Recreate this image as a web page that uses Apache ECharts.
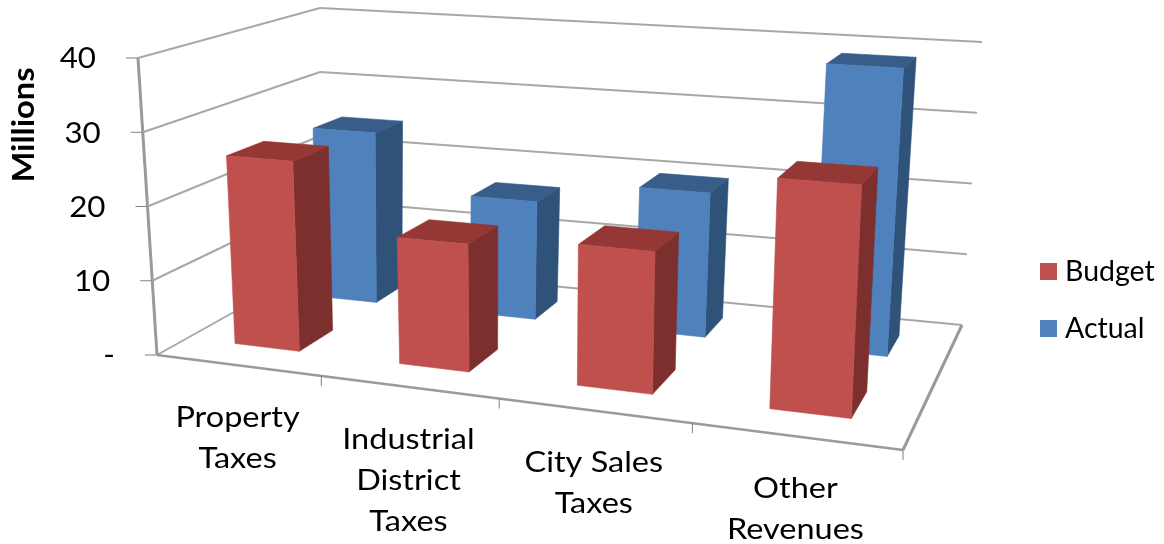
<!DOCTYPE html>
<html>
<head>
<meta charset="utf-8">
<style>
  html, body { margin: 0; padding: 0; background: #fff; }
  #chart { width: 1164px; height: 544px; }
</style>
<script src="https://cdn.jsdelivr.net/npm/echarts@6/dist/echarts.min.js"></script>
</head>
<body>
<div id="chart"></div>
<script>
  var categories = ['Property\nTaxes', 'Industrial\nDistrict\nTaxes', 'City Sales\nTaxes', 'Other\nRevenues']
  var budgetValues = [25.7, 16.7, 18, 28.4]
  var actualValues = [24.8, 16.7, 19.9, 38.6]
  var yTicks = [0, 10, 20, 30, 40]
  var yTickLabels = ['-', '10', '20', '30', '40']

  var FONT = 'Lato'
  var GRID_COLOR = '#a8a8a8'
  var EDGE_COLOR = '#9a9a9a'
  var TICK_COLOR = '#808080'

  // corners of the 3D box on screen: floor then top, front-left / front-right / back-right / back-left
  var floorBox = [[157, 355], [903, 450], [962, 325], [320, 264]]
  var topBox = [[138, 58], [920, 105], [982, 42], [320, 8]]
  var BAR_RATIO = 0.4
  var budgetDepth = [0.19, 0.41]
  var actualDepth = [0.7, 0.87]

  // categories get wider toward the right, a bit less so at the back
  function warp(u, w) {
    var k = 1.18 - 0.05 * w
    return u / (u + k * (1 - u))
  }
  function quad(box, u, w) {
    var r = []
    for (var k = 0; k < 2; k++) {
      var front = box[0][k] + (box[1][k] - box[0][k]) * u
      var back = box[3][k] + (box[2][k] - box[3][k]) * u
      r.push(front + (back - front) * w)
    }
    return r
  }
  function project(u, w, v) {
    var fu = warp(u, w)
    var a = quad(floorBox, fu, w)
    var b = quad(topBox, fu, w)
    return [a[0] + (b[0] - a[0]) * v, a[1] + (b[1] - a[1]) * v]
  }
  // axis pixel -> box fractions, so every mark goes through the library's scales
  function toU(params, x) {
    return (x - params.coordSys.x) / params.coordSys.width
  }
  function toV(params, y) {
    return (params.coordSys.y + params.coordSys.height - y) / params.coordSys.height
  }
  function face(points, color) {
    return {
      type: 'polygon',
      shape: { points: points },
      style: { fill: color, stroke: color, lineWidth: 0.6 }
    }
  }
  function line(a, b, color, width) {
    return {
      type: 'line',
      shape: { x1: a[0], y1: a[1], x2: b[0], y2: b[1] },
      style: { stroke: color, lineWidth: width }
    }
  }

  function barRenderer(depth, colors) {
    return function (params, api) {
      var p = api.coord([api.value(0), api.value(1)])
      var half = api.size([1, 0])[0] * BAR_RATIO / 2
      var u0 = toU(params, p[0] - half)
      var u1 = toU(params, p[0] + half)
      var v = toV(params, p[1])
      var w0 = depth[0]
      var w1 = depth[1]
      return {
        type: 'group',
        children: [
          face([project(u1, w0, 0), project(u1, w1, 0), project(u1, w1, v), project(u1, w0, v)], colors.side),
          face([project(u0, w0, v), project(u1, w0, v), project(u1, w1, v), project(u0, w1, v)], colors.top),
          face([project(u0, w0, 0), project(u1, w0, 0), project(u1, w0, v), project(u0, w0, v)], colors.front)
        ]
      }
    }
  }

  function renderValueTick(params, api) {
    var y = api.coord([0, api.value(1)])[1]
    var v = toV(params, y)
    var corner = project(0, 0, v)
    var children = [
      line(corner, project(0, 1, v), GRID_COLOR, 2),
      line(project(0, 1, v), project(1, 1, v), GRID_COLOR, 2),
      line([corner[0] - 12, corner[1]], corner, TICK_COLOR, 1),
      {
        type: 'text',
        x: corner[0] - 42,
        y: corner[1] + 1,
        scaleX: 1.08,
        style: {
          text: yTickLabels[params.dataIndex],
          fill: '#000',
          font: '29px ' + FONT,
          align: 'right',
          verticalAlign: 'middle'
        }
      }
    ]
    if (params.dataIndex === 0) {
      children.push(line(corner, project(0, 0, 1), EDGE_COLOR, 3))
      children.push(line(corner, project(1, 0, 0), EDGE_COLOR, 2.5))
      children.push(line(project(1, 0, 0), project(1, 1, 0), EDGE_COLOR, 3))
    }
    return { type: 'group', children: children }
  }

  function renderCategory(params, api) {
    var x = api.coord([api.value(0), 0])[0]
    var half = api.size([1, 0])[0] / 2
    var edge = project(toU(params, x), 0, 0)
    var tick = project(toU(params, x + half), 0, 0)
    return {
      type: 'group',
      children: [
        line(tick, [tick[0], tick[1] + 10], TICK_COLOR, 1),
        {
          type: 'text',
          x: edge[0],
          y: edge[1] + 32,
          scaleX: 1.12,
          style: {
            text: categories[params.dataIndex],
            fill: '#000',
            font: '29px ' + FONT,
            lineHeight: 41,
            align: 'center',
            verticalAlign: 'top'
          }
        }
      ]
    }
  }

  var chart = echarts.init(document.getElementById('chart'))
  var option = {
    animation: false,
    backgroundColor: '#fff',
    grid: { left: 157, right: 261, top: 58, bottom: 189 },
    xAxis: { type: 'category', data: categories, show: false },
    yAxis: { type: 'value', min: 0, max: 40, interval: 10, show: false },
    legend: {
      data: ['Budget', 'Actual'],
      orient: 'vertical',
      left: 1040,
      top: 257,
      padding: 0,
      icon: 'rect',
      itemWidth: 17,
      itemHeight: 17,
      itemGap: 28,
      selectedMode: false,
      textStyle: { fontFamily: FONT, fontSize: 28.5, color: '#000', padding: [0, 0, 0, 3] }
    },
    graphic: [{
      type: 'text',
      x: 24,
      y: 125,
      rotation: Math.PI / 2,
      scaleX: 1.09,
      style: {
        text: 'Millions',
        font: 'bold 30px ' + FONT,
        fill: '#000',
        align: 'center',
        verticalAlign: 'middle'
      }
    }],
    series: [
      {
        type: 'custom',
        silent: true,
        clip: false,
        z: 1,
        renderItem: renderValueTick,
        encode: { x: 0, y: 1 },
        data: yTicks.map(function (v) { return [0, v] })
      },
      {
        type: 'custom',
        silent: true,
        clip: false,
        z: 1,
        renderItem: renderCategory,
        encode: { x: 0, y: 1 },
        data: categories.map(function (c, i) { return [i, 0] })
      },
      {
        name: 'Actual',
        type: 'custom',
        silent: true,
        clip: false,
        z: 2,
        itemStyle: { color: '#4F81BD' },
        renderItem: barRenderer(actualDepth, { front: '#4F81BD', side: '#2F5279', top: '#385D8A' }),
        encode: { x: 0, y: 1 },
        data: actualValues.map(function (v, i) { return [i, v] })
      },
      {
        name: 'Budget',
        type: 'custom',
        silent: true,
        clip: false,
        z: 3,
        itemStyle: { color: '#C0504D' },
        renderItem: barRenderer(budgetDepth, { front: '#C0504D', side: '#7D2F2D', top: '#953735' }),
        encode: { x: 0, y: 1 },
        data: budgetValues.map(function (v, i) { return [i, v] })
      }
    ]
  }
  chart.setOption(option)
</script>
</body>
</html>
